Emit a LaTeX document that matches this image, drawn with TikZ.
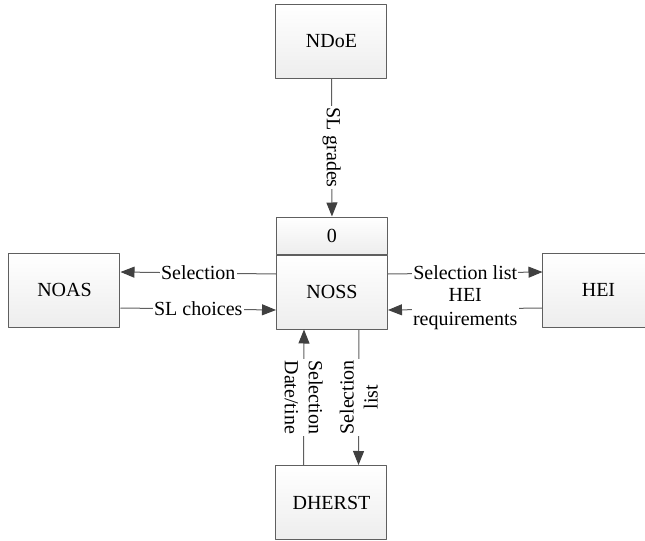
\documentclass[tikz,border=0pt]{standalone}
\usepackage{fontspec}
\setmainfont{Liberation Serif}
\usetikzlibrary{arrows.meta,positioning}
\definecolor{edgegray}{RGB}{95,95,95}
\definecolor{tipgray}{RGB}{64,64,64}

\begin{document}
\begin{tikzpicture}[x=0.5pt,y=-0.5pt,line join=round,
    ent/.style={draw=edgegray,line width=0.5pt,top color=white,bottom color=gray!14,
      minimum width=55.5pt,minimum height=37pt,inner sep=0pt,font=\fontsize{10}{12}\selectfont},
    hdr/.style={ent,minimum height=18.5pt},
    flow/.style={draw=edgegray,line width=0.5pt,-{Triangle[length=7pt,width=5.5pt,color=tipgray]}},
    lbl/.style={fill=white,inner sep=0.6pt,align=center,font=\fontsize{10}{12}\selectfont}]
  \useasboundingbox (0,0) rectangle (645,541);
  % external entities and the process
  \node[ent] (ndoe) at (331.5,41) {NDoE};
  \node[hdr] (pnum) at (332,235.5) {0};
  \node[ent,below=0pt of pnum] (noss) {NOSS};
  \node[ent] (noas) at (64.5,290) {NOAS};
  \node[ent] (hei) at (598.5,290) {HEI};
  \node[ent] (dherst) at (331.5,502.5) {DHERST};
  % flows
  \draw[flow] (ndoe) -- node[lbl,rotate=-90] {SL grades} (pnum);
  \draw[flow] ([yshift=9pt]noss.west) -- node[lbl] {Selection} ([yshift=9pt]noas.east);
  \draw[flow] ([yshift=-9pt]noas.east) -- node[lbl] {SL choices} ([yshift=-9pt]noss.west);
  \draw[flow] ([yshift=9pt]noss.east) -- node[lbl] {Selection list} ([yshift=9pt]hei.west);
  \draw[flow] ([yshift=-9pt]hei.west) -- node[lbl] {HEI\\requirements} ([yshift=-9pt]noss.east);
  \draw[flow] ([xshift=-14pt]dherst.north) -- node[lbl,rotate=-90] {Selection\\Date/tine} ([xshift=-14pt]noss.south);
  \draw[flow] ([xshift=13.5pt]noss.south) -- node[lbl,rotate=90] {Selection\\list} ([xshift=13.5pt]dherst.north);
\end{tikzpicture}
\end{document}
